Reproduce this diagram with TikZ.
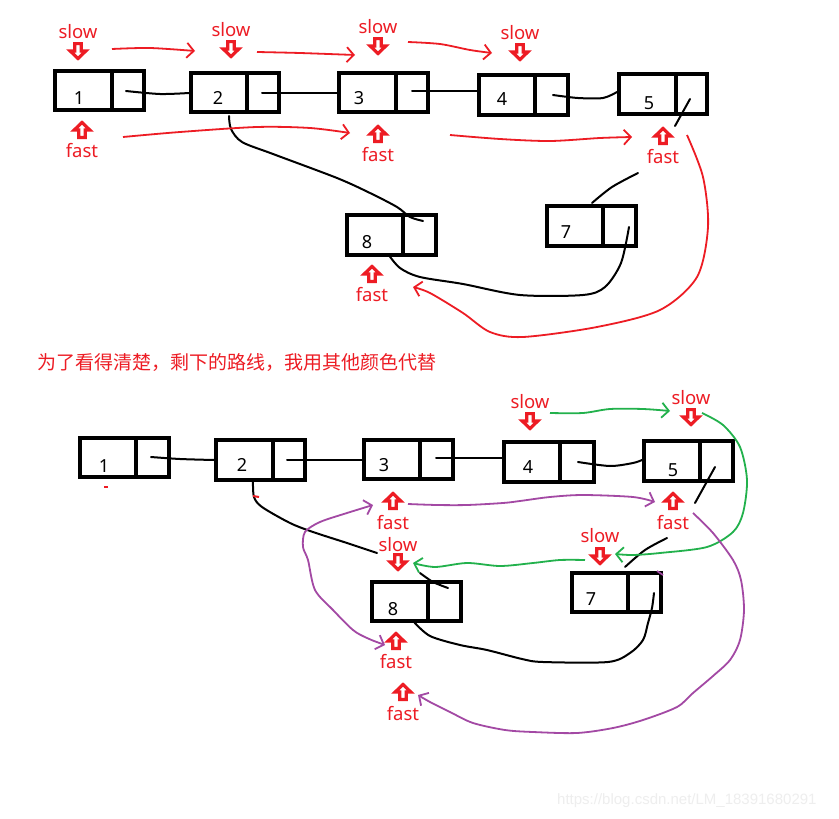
\documentclass[tikz,border=0pt]{standalone}
\usepackage{fontspec}
\setmainfont{Noto Sans}
\newfontfamily\cjk{Noto Sans CJK SC}
\newfontfamily\wmfont{Liberation Sans}
\usetikzlibrary{arrows.meta,fit}
\definecolor{pred}{HTML}{ED1C24}
\definecolor{ppur}{HTML}{A349A4}
\definecolor{pgrn}{HTML}{22B14C}
\definecolor{wmgray}{HTML}{EEEEEE}
\tikzset{
  lbox/.style={draw, line width=3.6pt, inner sep=0pt},
  divline/.style={line width=3.6pt},
  num/.style={font=\fontsize{18}{18}\selectfont, inner sep=0pt},
  lab/.style={text=pred, font=\fontsize{18.5}{18.5}\selectfont, inner sep=0pt},
  hol/.style={draw=pred, line width=3.2pt, line join=miter},
  blk/.style={line width=2pt, line cap=round},
  barb/.style={-{Straight Barb[length=7pt,width=15pt]}},
  redarr/.style={draw=pred, line width=1.8pt, barb},
  purarr/.style={draw=ppur, line width=1.8pt, barb},
  grnarr/.style={draw=pgrn, line width=1.8pt, barb},
}
% name, x1, y1, x2, y2, xdiv, label, lx, ly
\newcommand\lnode[9]{%
  \node[lbox, fit={(#2+1.8,#3+1.8) (#4-1.8,#5-1.8)}] (#1) {};
  \draw[divline] (#6,#3+1.8) -- (#6,#5-1.8);
  \node[num] (#1n) at (#8,#9) {#7};}
% down hollow arrow: x, top
\newcommand\dnarrow[2]{%
  \draw[hol] (#1-3.2,#2+1.6) -- (#1+3.2,#2+1.6) -- (#1+3.2,#2+9) -- (#1+7.8,#2+9) -- (#1,#2+16.5) -- (#1-7.8,#2+9) -- (#1-3.2,#2+9) -- cycle;}
% up hollow arrow: x, tip
\newcommand\uparr[2]{%
  \draw[hol] (#1,#2+1.5) -- (#1+7.8,#2+9) -- (#1+3.2,#2+9) -- (#1+3.2,#2+16.4) -- (#1-3.2,#2+16.4) -- (#1-3.2,#2+9) -- (#1-7.8,#2+9) -- cycle;}
\begin{document}
\begin{tikzpicture}[x=1pt,y=-1pt]
\fill[white] (0,0) rectangle (839,819);
\useasboundingbox (0,0) rectangle (839,819);

% ---------------- top diagram ----------------
\lnode{t1}{53}{69}{146}{112}{112}{1}{79}{98}
\lnode{t2}{189}{71}{281}{114}{247}{2}{218}{98}
\lnode{t3}{337}{71}{430}{114}{396}{3}{359}{98}
\lnode{t4}{477}{73}{570}{117}{535}{4}{502}{99}
\lnode{t5}{617}{72}{709}{116}{676}{5}{649}{103}
\lnode{t7}{545}{204}{638}{248}{603}{7}{566}{232}
\lnode{t8}{345}{213}{438}{257}{403}{8}{367}{242}

% black links
\draw[blk] plot[smooth] coordinates {(126,91) (160,94) (189,93)};
\draw[blk] (262,93) -- (337,93);
\draw[blk] (412,91) -- (477,91);
\draw[blk] plot[smooth] coordinates {(553,95) (578,98) (603,98) (617,92)};
\draw[blk] (690,99) -- (675,126);
\draw[blk] plot[smooth] coordinates {(638,173) (612,187) (592,203)};
\draw[blk] plot[smooth] coordinates {(229,116) (231,129) (242,142) (273,154) (337,178) (370,193) (397,207) (410,217) (423,221)};
\draw[blk] plot[smooth] coordinates {(629,227) (621,263) (605,287) (583,295) (520,295) (463,284) (420,277) (400,268) (388,254)};

% labels
\node[lab] (ts1) at (78,32) {slow};  \dnarrow{78}{42}
\node[lab] (ts2) at (231,30) {slow}; \dnarrow{231}{40}
\node[lab] (ts3) at (378,27) {slow}; \dnarrow{378}{37}
\node[lab] (ts4) at (520,33) {slow}; \dnarrow{520}{43}
\uparr{82}{121}  \node[lab] (tf1) at (82,151) {fast};
\uparr{378}{125} \node[lab] (tf3) at (378,155) {fast};
\uparr{663}{127} \node[lab] (tf5) at (663,157) {fast};
\uparr{372}{265} \node[lab] (tf8) at (372,295) {fast};

% red movement arrows
\draw[redarr] plot[smooth] coordinates {(112,49) (150,48) (195,51)};
\draw[redarr] plot[smooth] coordinates {(257,52) (300,53) (355,55)};
\draw[redarr] plot[smooth] coordinates {(408,42) (440,44) (470,50) (492,53)};
\draw[redarr] plot[smooth] coordinates {(123,137) (180,132) (257,127) (310,128) (350,133)};
\draw[redarr] plot[smooth] coordinates {(450,135) (500,139) (550,141) (600,138) (632,137)};
\draw[redarr] plot[smooth] coordinates {(687,135) (703,177) (708,227) (697,277) (660,310) (597,327) (523,337) (490,332) (463,313) (430,293) (413,287)};

% caption
\node[anchor=west, inner sep=0pt, text=pred, font=\cjk\fontsize{19}{19}\selectfont] (cap) at (37,362) {为了看得清楚，剩下的路线，我用其他颜色代替};

% ---------------- bottom diagram ----------------
\lnode{b1}{78}{436}{171}{479}{136}{1}{104}{466}
\lnode{b2}{214}{438}{307}{482}{273}{2}{242}{465}
\lnode{b3}{362}{438}{455}{481}{420}{3}{384}{465}
\lnode{b4}{502}{440}{596}{484}{560}{4}{528}{467}
\lnode{b5}{642}{439}{735}{483}{700}{5}{673}{470}
\lnode{b7}{570}{571}{663}{614}{628}{7}{591}{599}
\lnode{b8}{370}{580}{463}{623}{428}{8}{393}{609}

% black links
\draw[blk] plot[smooth] coordinates {(151,457) (180,459) (214,460)};
\draw[blk] (287,460) -- (362,460);
\draw[blk] (436,458) -- (502,458);
\draw[blk] plot[smooth] coordinates {(578,462) (610,466) (633,463) (642,460)};
\draw[blk] (715,467) -- (695,503);
\draw[blk] plot[smooth] coordinates {(667,538) (645,550) (625,567)};
\draw[blk] plot[smooth] coordinates {(253,482) (254,497) (262,507) (290,523) (313,532) (347,543) (377,553)};
\draw[blk] plot[smooth] coordinates {(420,573) (433,582) (448,588)};
\draw[blk] plot[smooth] coordinates {(654,593) (652,608) (648,623) (643,640) (630,653) (608,662) (543,662) (522,659) (487,650) (460,645) (430,636) (414,622)};

% tiny red marks
\draw[pred, line width=2pt] (104,487) -- (108,487);
\draw[pred, line width=2pt] (253,496) -- (259,497);

% labels
\node[lab] (bs4) at (530,402) {slow}; \dnarrow{530}{412}
\node[lab] (bs5) at (691,398) {slow}; \dnarrow{691}{408}
\node[lab] (bs8) at (398,545) {slow}; \dnarrow{398}{553}
\node[lab] (bs7) at (600,536) {slow}; \dnarrow{600}{547}
\uparr{393}{492} \node[lab] (bf3) at (393,523) {fast};
\uparr{673}{492} \node[lab] (bf5) at (673,523) {fast};
\uparr{396}{632} \node[lab] (bf8) at (396,662) {fast};
\uparr{403}{683} \node[lab] (bf9) at (403,714) {fast};

% green slow moves
\draw[grnarr] plot[smooth] coordinates {(550,413) (583,413) (610,409) (643,409) (670,411)};
\draw[grnarr] plot[smooth] coordinates {(702,413) (723,425) (740,447) (747,480) (743,513) (733,532) (707,547) (660,553) (633,555) (615,554)};
\draw[grnarr] plot[smooth] coordinates {(585,560) (560,560) (533,563) (500,566) (467,563) (435,567) (413,563)};

% purple fast moves
\draw[purarr] plot[smooth] coordinates {(408,504) (437,505) (467,505) (503,503) (520,501) (550,497) (583,495) (633,497) (655,502)};
\draw[purarr] plot[smooth] coordinates {(693,513) (713,533) (733,560) (741,580) (744,610) (740,640) (730,660) (713,676) (693,693) (677,707) (643,720) (613,728) (577,733) (533,732) (505,730) (473,723) (450,712) (430,702) (418,695)};
\draw[purarr, {Straight Barb[length=7pt,width=15pt]}-{Straight Barb[length=7pt,width=15pt]}] plot[smooth] coordinates {(385,645) (367,638) (353,630) (333,610) (315,590) (308,560) (303,547) (305,532) (320,522) (347,513) (373,505)};
\draw[ppur, line width=1.8pt] (657,571) -- (663,575);

% watermark
\node[anchor=west, inner sep=0pt, text=wmgray, font=\wmfont\fontsize{15}{15}\selectfont] (wm) at (557,801) {https://blog.csdn.net/LM\_18391680291};
\end{tikzpicture}
\end{document}
